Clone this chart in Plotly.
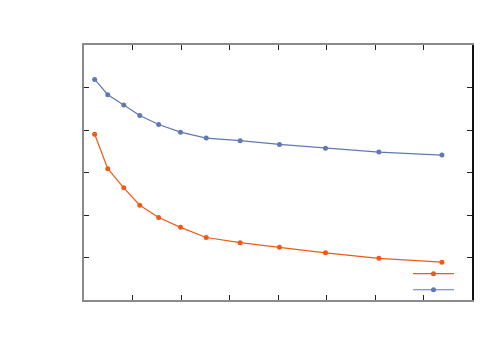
import plotly.graph_objects as go

# values (axis units: x 0..8, y 0..6)
x_vals = [0.22, 0.49, 0.82, 1.15, 1.54, 1.99, 2.52, 3.22, 4.03, 4.98, 6.08, 7.38]
orange_vals = [3.90, 3.09, 2.64, 2.23, 1.94, 1.71, 1.47, 1.35, 1.24, 1.11, 0.98, 0.89]
blue_vals = [5.19, 4.83, 4.59, 4.34, 4.13, 3.95, 3.81, 3.75, 3.66, 3.57, 3.48, 3.41]

ORANGE = "#ef5a17"
BLUE = "#6078b6"

fig = go.Figure()
fig.add_trace(go.Scatter(
    x=x_vals, y=orange_vals, mode="lines+markers", name=" ",
    line=dict(color=ORANGE, width=1.2),
    marker=dict(color=ORANGE, size=5),
))
fig.add_trace(go.Scatter(
    x=x_vals, y=blue_vals, mode="lines+markers", name=" ", legend="legend2",
    line=dict(color=BLUE, width=1.2),
    marker=dict(color=BLUE, size=5),
))
# invisible trace just to carry a black right-hand axis line
fig.add_trace(go.Scatter(x=[], y=[], yaxis="y2", showlegend=False))

axis_common = dict(
    showgrid=False, zeroline=False, showticklabels=False,
    ticks="inside", ticklen=5, tickcolor="#222", tickwidth=1,
)
legend_common = dict(xanchor="left", yanchor="top", bgcolor="rgba(0,0,0,0)",
                     itemwidth=41, font=dict(size=8))

fig.update_layout(
    width=500, height=350,
    margin=dict(l=76, r=36, t=37, b=58),
    paper_bgcolor="white", plot_bgcolor="white",
    xaxis=dict(range=[0, 8], dtick=1, showline=True, linecolor="#8a8a8a",
               linewidth=2, mirror="ticks", **axis_common),
    yaxis=dict(range=[0, 6], dtick=1, showline=True, linecolor="#8a8a8a",
               linewidth=2, mirror=False, **axis_common),
    yaxis2=dict(range=[0, 6], dtick=1, overlaying="y", side="right",
                showline=True, linecolor="#111", linewidth=1.5, **axis_common),
    legend=dict(x=0.835, y=0.16, **legend_common),
    legend2=dict(x=0.835, y=0.097, **legend_common),
    showlegend=True,
)

fig.write_html("out.html")
